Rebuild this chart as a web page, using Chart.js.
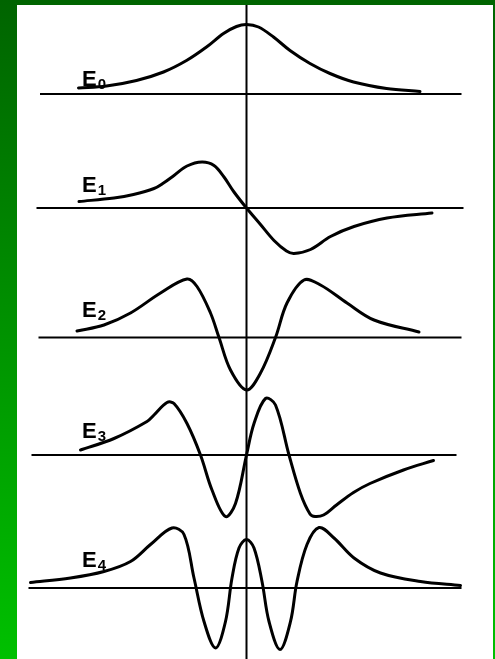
<!DOCTYPE html>
<html><head><meta charset="utf-8">
<script src="https://cdn.jsdelivr.net/npm/chart.js@4/dist/chart.umd.min.js"></script>
<style>
html,body{margin:0;padding:0;width:495px;height:659px;overflow:hidden;background:linear-gradient(to bottom,#006400,#00c000);}
#panel{position:absolute;left:17px;top:5px;width:476px;height:654px;background:#fff;}
canvas{display:block}
</style></head><body>
<div id="panel"><canvas id="c" width="476" height="654"></canvas></div>
<script>
// ---- data (x = position, y = amplitude relative to each level's baseline) ----
const levelLetters = ['E','E','E','E','E'];
const levelSubscripts = ['0','1','2','3','4'];

const e0X = [-3.36,-2.80,-2.20,-1.66,-1.20,-0.80,-0.46,-0.20,0.00,0.24,0.54,0.87,1.27,1.67,2.14,2.80,3.47];
const e0Y = [0.12,0.16,0.27,0.44,0.67,0.94,1.21,1.35,1.39,1.34,1.14,0.87,0.61,0.41,0.24,0.11,0.05];

const e1X = [-3.35,-2.65,-2.26,-1.85,-1.66,-1.45,-1.19,-0.89,-0.65,-0.45,-0.25,0.00,0.28,0.55,0.80,0.95,1.28,1.68,2.15,2.81,3.71];
const e1Y = [0.13,0.20,0.27,0.39,0.50,0.65,0.84,0.92,0.85,0.62,0.32,0.00,-0.33,-0.65,-0.86,-0.91,-0.83,-0.57,-0.37,-0.20,-0.10];

const e2X = [-3.39,-2.85,-2.32,-1.72,-1.19,-0.99,-0.72,-0.55,-0.32,0.00,0.28,0.58,0.81,1.15,1.48,2.01,2.55,3.45];
const e2Y = [0.13,0.25,0.49,0.89,1.17,1.02,0.49,0.00,-0.65,-1.05,-0.71,0.00,0.69,1.15,1.05,0.69,0.35,0.11];

const e3X = [-3.32,-2.65,-1.99,-1.85,-1.59,-1.45,-1.19,-0.92,-0.69,-0.42,-0.22,0.00,0.15,0.38,0.58,0.85,1.08,1.27,1.37,1.54,1.80,2.14,2.47,3.14,3.74];
const e3Y = [0.10,0.33,0.67,0.80,1.05,1.03,0.63,0.00,-0.70,-1.23,-0.97,0.00,0.63,1.13,1.00,0.00,-0.77,-1.18,-1.23,-1.20,-1.00,-0.75,-0.57,-0.30,-0.11];

const e4X = [-4.32,-3.52,-2.85,-2.32,-1.92,-1.49,-1.25,-1.05,-0.85,-0.62,-0.42,-0.29,-0.15,0.00,0.15,0.31,0.45,0.67,0.88,1.01,1.21,1.45,1.75,2.15,2.68,3.48,4.28];
const e4Y = [0.11,0.20,0.33,0.53,0.87,1.20,1.07,0.20,-0.67,-1.20,-0.67,0.20,0.80,0.97,0.80,0.13,-0.67,-1.23,-0.67,0.13,0.87,1.21,1.00,0.60,0.30,0.13,0.05];

const baselineFrom = [-4.13,-4.20,-4.16,-4.30,-4.36];
const baselineTo   = [ 4.30, 4.34, 4.30, 4.20, 4.30];

// ---- layout (not data) ----
const W = 476, H = 654;
const UNIT = 50;                 // px per unit on both axes
const AXIS_PX = 229.5;           // canvas x of position 0
const baselinePx = [89, 203, 332.5, 450, 583];
const labelPos = { x: -3.29, y: [0.16, 0.33, 0.41, 0.34, 0.42] };

const seriesX = [e0X, e1X, e2X, e3X, e4X];
const seriesY = [e0Y, e1Y, e2Y, e3Y, e4Y];

const datasets = [];
const scales = {
  x: { type: 'linear', display: false, min: -AXIS_PX / UNIT, max: (W - AXIS_PX) / UNIT }
};
for (let k = 0; k < 5; k++) {
  const id = 'y' + k;
  scales[id] = { type: 'linear', display: false, min: -(H - baselinePx[k]) / UNIT, max: baselinePx[k] / UNIT };
  datasets.push({
    label: 'baseline ' + k, yAxisID: id,
    data: [{ x: baselineFrom[k], y: 0 }, { x: baselineTo[k], y: 0 }],
    borderColor: '#000', borderWidth: 2, pointRadius: 0, showLine: true, tension: 0
  });
  datasets.push({
    label: levelLetters[k] + levelSubscripts[k], yAxisID: id,
    data: seriesX[k].map((x, i) => ({ x, y: seriesY[k][i] })),
    borderColor: '#000', borderWidth: 3, pointRadius: 0, showLine: true,
    tension: 0.35, borderCapStyle: 'round', borderJoinStyle: 'round'
  });
}

const overlay = {
  id: 'overlay',
  beforeDatasetsDraw(chart) {
    const ctx = chart.ctx, a = chart.chartArea;
    const x0 = chart.scales.x.getPixelForValue(0);
    ctx.save();
    ctx.strokeStyle = '#000'; ctx.lineWidth = 2;
    ctx.beginPath(); ctx.moveTo(x0, a.top); ctx.lineTo(x0, a.bottom); ctx.stroke();
    ctx.restore();
  },
  afterDatasetsDraw(chart) {
    const ctx = chart.ctx;
    ctx.save();
    ctx.fillStyle = '#000';
    ctx.textBaseline = 'alphabetic';
    for (let k = 0; k < 5; k++) {
      const px = chart.scales.x.getPixelForValue(labelPos.x);
      const py = chart.scales['y' + k].getPixelForValue(labelPos.y[k]);
      ctx.font = 'bold 22px "Liberation Sans", Arial, sans-serif';
      ctx.fillText(levelLetters[k], px, py);
      const w = ctx.measureText(levelLetters[k]).width;
      ctx.font = 'bold 15px "Liberation Sans", Arial, sans-serif';
      ctx.fillText(levelSubscripts[k], px + w + 1, py + 3);
    }
    ctx.restore();
  }
};

new Chart(document.getElementById('c'), {
  type: 'scatter',
  data: { datasets },
  options: {
    responsive: false, animation: false, devicePixelRatio: 1,
    layout: { padding: 0 },
    scales,
    plugins: { legend: { display: false }, tooltip: { enabled: false } },
    elements: { line: { fill: false } }
  },
  plugins: [overlay]
});
</script>
</body></html>
